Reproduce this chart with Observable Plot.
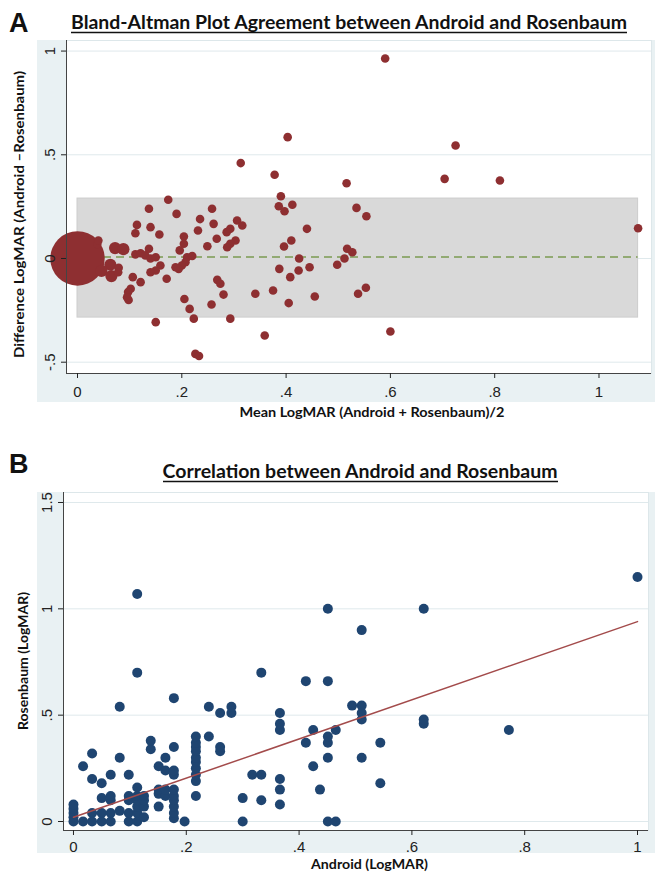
<!DOCTYPE html>
<html><head><meta charset="utf-8">
<script src="https://cdn.jsdelivr.net/npm/d3@7"></script>
<script src="https://cdn.jsdelivr.net/npm/@observablehq/plot@0.6"></script>
<style>
body{margin:0;background:#fff}
#fig{position:relative;width:655px;height:875px;overflow:hidden}
.abs{position:absolute}
.ttl{font-family:Lato,'Open Sans',sans-serif;font-weight:700;fill:#111}
.pl{font-family:'Liberation Sans',Arial,sans-serif;font-weight:700;fill:#111}
</style></head><body>
<div id="fig">
 <div class="abs" style="left:37px;top:40px;width:618px;height:362px;background:#e9f1f3"></div>
 <div class="abs" style="left:37px;top:492px;width:618px;height:361px;background:#e9f1f3"></div>
 <div id="pa" class="abs" style="left:0;top:0"></div>
 <div id="pb" class="abs" style="left:0;top:450px"></div>
 <svg class="abs" style="left:0;top:0" width="655" height="875">
  <text class="pl" x="9" y="32" font-size="27">A</text>
  <text class="ttl" x="349" y="29" font-size="18.5" text-anchor="middle" textLength="556" lengthAdjust="spacingAndGlyphs">Bland-Altman Plot Agreement between Android and Rosenbaum</text>
  <line x1="71" x2="627" y1="32.5" y2="32.5" stroke="#111" stroke-width="1.3"/>
  <text class="ttl" transform="translate(18,214.5) rotate(-90)" font-size="14" text-anchor="middle" dominant-baseline="central" textLength="287" lengthAdjust="spacingAndGlyphs">Difference LogMAR (Android –Rosenbaum)</text>
  <text class="ttl" x="372" y="417" font-size="14" text-anchor="middle" textLength="265" lengthAdjust="spacingAndGlyphs">Mean LogMAR (Android + Rosenbaum)/2</text>
  <text class="pl" x="9" y="473" font-size="27">B</text>
  <text class="ttl" x="360" y="478" font-size="18.5" text-anchor="middle" textLength="395" lengthAdjust="spacingAndGlyphs">Correlation between Android and Rosenbaum</text>
  <line x1="163" x2="558" y1="481.5" y2="481.5" stroke="#111" stroke-width="1.3"/>
  <text class="ttl" transform="translate(22,661) rotate(-90)" font-size="14" text-anchor="middle" dominant-baseline="central" textLength="138" lengthAdjust="spacingAndGlyphs">Rosenbaum (LogMAR)</text>
  <text class="ttl" x="369.5" y="869" font-size="14" text-anchor="middle" textLength="117" lengthAdjust="spacingAndGlyphs">Android (LogMAR)</text>
 </svg>
</div>
<script>
// ---- Panel A: Bland-Altman (mean, difference, number of observations at that point)
const aMean = [0,0.038,0.04,0.072,0.088,0.063,0.079,0.046,0.065,0.078,
  0.111,0.121,0.13,0.14,0.15,0.111,0.114,0.137,0.14,0.157,
  0.137,0.174,0.19,0.204,0.204,0.196,0.231,0.235,0.258,0.261,
  0.249,0.267,0.286,0.293,0.306,0.316,0.303,0.293,0.287,0.21,
  0.22,0.207,0.2,0.194,0.188,0.159,0.15,0.14,0.171,0.121,
  0.106,0.102,0.097,0.098,0.095,0.268,0.274,0.28,0.205,0.215,
  0.223,0.257,0.293,0.15,0.226,0.233,0.313,0.378,0.403,0.59,
  0.39,0.386,0.397,0.412,0.44,0.41,0.396,0.425,0.387,0.424,
  0.445,0.408,0.341,0.375,0.405,0.455,0.359,0.516,0.535,0.554,
  0.517,0.527,0.512,0.498,0.553,0.538,0.60,0.704,0.725,0.81,1.075];
const aDiff = [0,0.07,0.087,0.05,0.045,-0.03,-0.045,-0.06,-0.085,-0.066,
  0.02,0.025,0.015,0,0.006,0.122,0.162,0.24,0.151,0.116,
  0.047,0.283,0.215,0.106,0.071,0.039,0.135,0.19,0.24,0.167,
  0.059,0.095,0.127,0.143,0.183,0.159,0.087,0.071,0.054,0.006,
  0.012,-0.018,-0.034,-0.05,-0.042,-0.034,-0.058,-0.066,-0.098,-0.114,
  -0.09,-0.146,-0.162,-0.2,-0.187,-0.103,-0.122,-0.174,-0.195,-0.243,
  -0.29,-0.222,-0.29,-0.307,-0.46,-0.47,0.46,0.404,0.585,0.964,
  0.30,0.252,0.228,0.259,0.143,0.087,0.058,0,-0.05,-0.058,
  -0.042,-0.09,-0.17,-0.154,-0.215,-0.183,-0.371,0.363,0.244,0.204,
  0.047,0.03,0,-0.03,-0.141,-0.17,-0.352,0.384,0.545,0.376,0.146];
const aCount = [40,1,1,2,2,2,1,2,2,1,
  1,1,1,1,1,1,1,1,1,1, 1,1,1,1,1,1,1,1,1,1, 1,1,1,1,1,1,1,1,1,1,
  1,1,1,1,1,1,1,1,1,1, 1,1,1,1,1,1,1,1,1,1, 1,1,1,1,1,1,1,1,1,1,
  1,1,1,1,1,1,1,1,1,1, 1,1,1,1,1,1,1,1,1,1, 1,1,1,1,1,1,1,1,1,1,1];
const aMeanDiff = 0.007;
const aLimits = [-0.285, 0.289];
const aBandX = [0, 1.075];
const aXTicks = [0,0.2,0.4,0.6,0.8,1];
const aYTicks = [-0.5,0,0.5,1];

// ---- Panel B: correlation (Android, Rosenbaum)
const bAndroid = [0,0,0,0,0, 0.017,0.017, 0.033,0.033,0.033,0.033, 0.05,0.05,0.05,0.05,
  0.066,0.066,0.066,0.066,0.066, 0.082,0.082,0.082, 0.098,0.098,0.098,0.098,0.098,
  0.113,0.113,0.113,0.113,0.113,0.113,0.113,0.113, 0.125,0.125,0.125,0.125, 0.137,0.137,
  0.151,0.151,0.151,0.151, 0.163,0.163,0.163,0.163,
  0.178,0.178,0.178,0.178,0.178,0.178,0.178,0.178,0.178,0.178, 0.197,
  0.217,0.217,0.217,0.217,0.217,0.217,0.217,0.217,0.217,0.217,
  0.24,0.24, 0.26,0.26,0.26, 0.28,0.28, 0.30,0.30, 0.317, 0.333,0.333,0.333,
  0.366,0.366,0.366,0.366,0.366,0.366, 0.412,0.412, 0.425,0.425, 0.437,
  0.451,0.451,0.451,0.451,0.451,0.451, 0.465,0.465, 0.494,
  0.511,0.511,0.511,0.511,0.511, 0.544,0.544, 0.621,0.621,0.621, 0.772, 1.0];
const bRosenbaum = [0,0.02,0.04,0.06,0.08, 0,0.26, 0,0.04,0.2,0.32, 0,0.04,0.11,0.18,
  0,0.04,0.1,0.12,0.22, 0.05,0.3,0.54, 0,0.04,0.1,0.12,0.22,
  0,0.04,0.07,0.1,0.12,0.16,0.7,1.07, 0.02,0.07,0.1,0.12, 0.34,0.38,
  0.07,0.13,0.15,0.26, 0.12,0.15,0.24,0.3,
  0.015,0.04,0.07,0.1,0.12,0.15,0.22,0.24,0.35,0.58, 0,
  0.12,0.19,0.22,0.25,0.28,0.3,0.33,0.35,0.37,0.4,
  0.4,0.54, 0.33,0.35,0.51, 0.51,0.54, 0,0.11, 0.22, 0.1,0.22,0.7,
  0.08,0.15,0.2,0.43,0.46,0.51, 0.37,0.66, 0.26,0.43, 0.15,
  0,0.3,0.37,0.4,0.66,1.0, 0,0.43, 0.545,
  0.3,0.48,0.51,0.545,0.9, 0.18,0.37, 0.46,0.48,1.0, 0.43, 1.15];
const bFitX = [0, 1];
const bFitY = [0.02, 0.94];
const bXTicks = [0,0.2,0.4,0.6,0.8,1];
const bYTicks = [0,0.5,1,1.5];

const fmt = d => d === 0 ? "0" : (d < 0 ? "-" : "") + String(+Math.abs(d).toFixed(2)).replace(/^0\./, ".");
const axisStyle = {background:"transparent", fontFamily:"'Liberation Sans', Arial, sans-serif", fontSize:"15px", color:"#222"};

const A = aMean.map((m, i) => ({m, d: aDiff[i], n: aCount[i]}));
const axDom = [-0.0211, 1.1007], ayDom = [-0.5545, 1.051];
const plotA = Plot.plot({
  width: 655, height: 420, marginLeft: 66, marginRight: 4, marginTop: 40, marginBottom: 47,
  style: axisStyle,
  x: {domain: axDom}, y: {domain: ayDom},
  r: {type: "sqrt", domain: [0, 40], range: [0, 4.3 * Math.sqrt(40)]},
  marks: [
    Plot.frame({fill: "white", stroke: "#dde7ea"}),
    Plot.gridY(aYTicks, {stroke: "#dfe9ec", strokeOpacity: 1}),
    Plot.rect([{x1: aBandX[0], x2: aBandX[1], y1: aLimits[0], y2: aLimits[1]}],
      {x1: "x1", x2: "x2", y1: "y1", y2: "y2", fill: "#d9d9d9", stroke: "#cdcdcd"}),
    Plot.ruleY([{y: aMeanDiff, x1: aBandX[0], x2: aBandX[1]}],
      {y: "y", x1: "x1", x2: "x2", stroke: "#7b9a52", strokeWidth: 1.6, strokeDasharray: "8,5"}),
    Plot.dot(A, {x: "m", y: "d", r: "n", fill: "#8e2f31"}),
    Plot.ruleX([axDom[0]], {stroke: "#444"}),
    Plot.ruleY([ayDom[0]], {stroke: "#444"}),
    Plot.axisX({ticks: aXTicks, tickFormat: fmt, tickSize: 5, tickPadding: 8, label: null}),
    Plot.axisY({ticks: aYTicks, tickFormat: fmt, tickSize: 5, tickPadding: 7, tickRotate: -90, label: null})
  ]
});
document.getElementById("pa").appendChild(plotA);

const B = bAndroid.map((a, i) => ({a, r: bRosenbaum[i]}));
const fit = bFitX.map((x, i) => ({x, y: bFitY[i]}));
const bxDom = [-0.0177, 1.0195], byDom = [-0.0423, 1.547];
const plotB = Plot.plot({
  width: 655, height: 420, marginLeft: 63, marginRight: 7, marginTop: 42, marginBottom: 40,
  style: axisStyle,
  x: {domain: bxDom}, y: {domain: byDom},
  marks: [
    Plot.frame({fill: "white", stroke: "#dde7ea"}),
    Plot.gridY(bYTicks, {stroke: "#dfe9ec", strokeOpacity: 1}),
    Plot.dot(B, {x: "a", y: "r", r: 5, fill: "#1f4571"}),
    Plot.line(fit, {x: "x", y: "y", stroke: "#a34b4b", strokeWidth: 1.5}),
    Plot.ruleX([bxDom[0]], {stroke: "#444"}),
    Plot.ruleY([byDom[0]], {stroke: "#444"}),
    Plot.axisX({ticks: bXTicks, tickFormat: fmt, tickSize: 5, tickPadding: 6, label: null}),
    Plot.axisY({ticks: bYTicks, tickFormat: fmt, tickSize: 5, tickPadding: 7, tickRotate: -90, label: null})
  ]
});
document.getElementById("pb").appendChild(plotB);
</script>
</body></html>
